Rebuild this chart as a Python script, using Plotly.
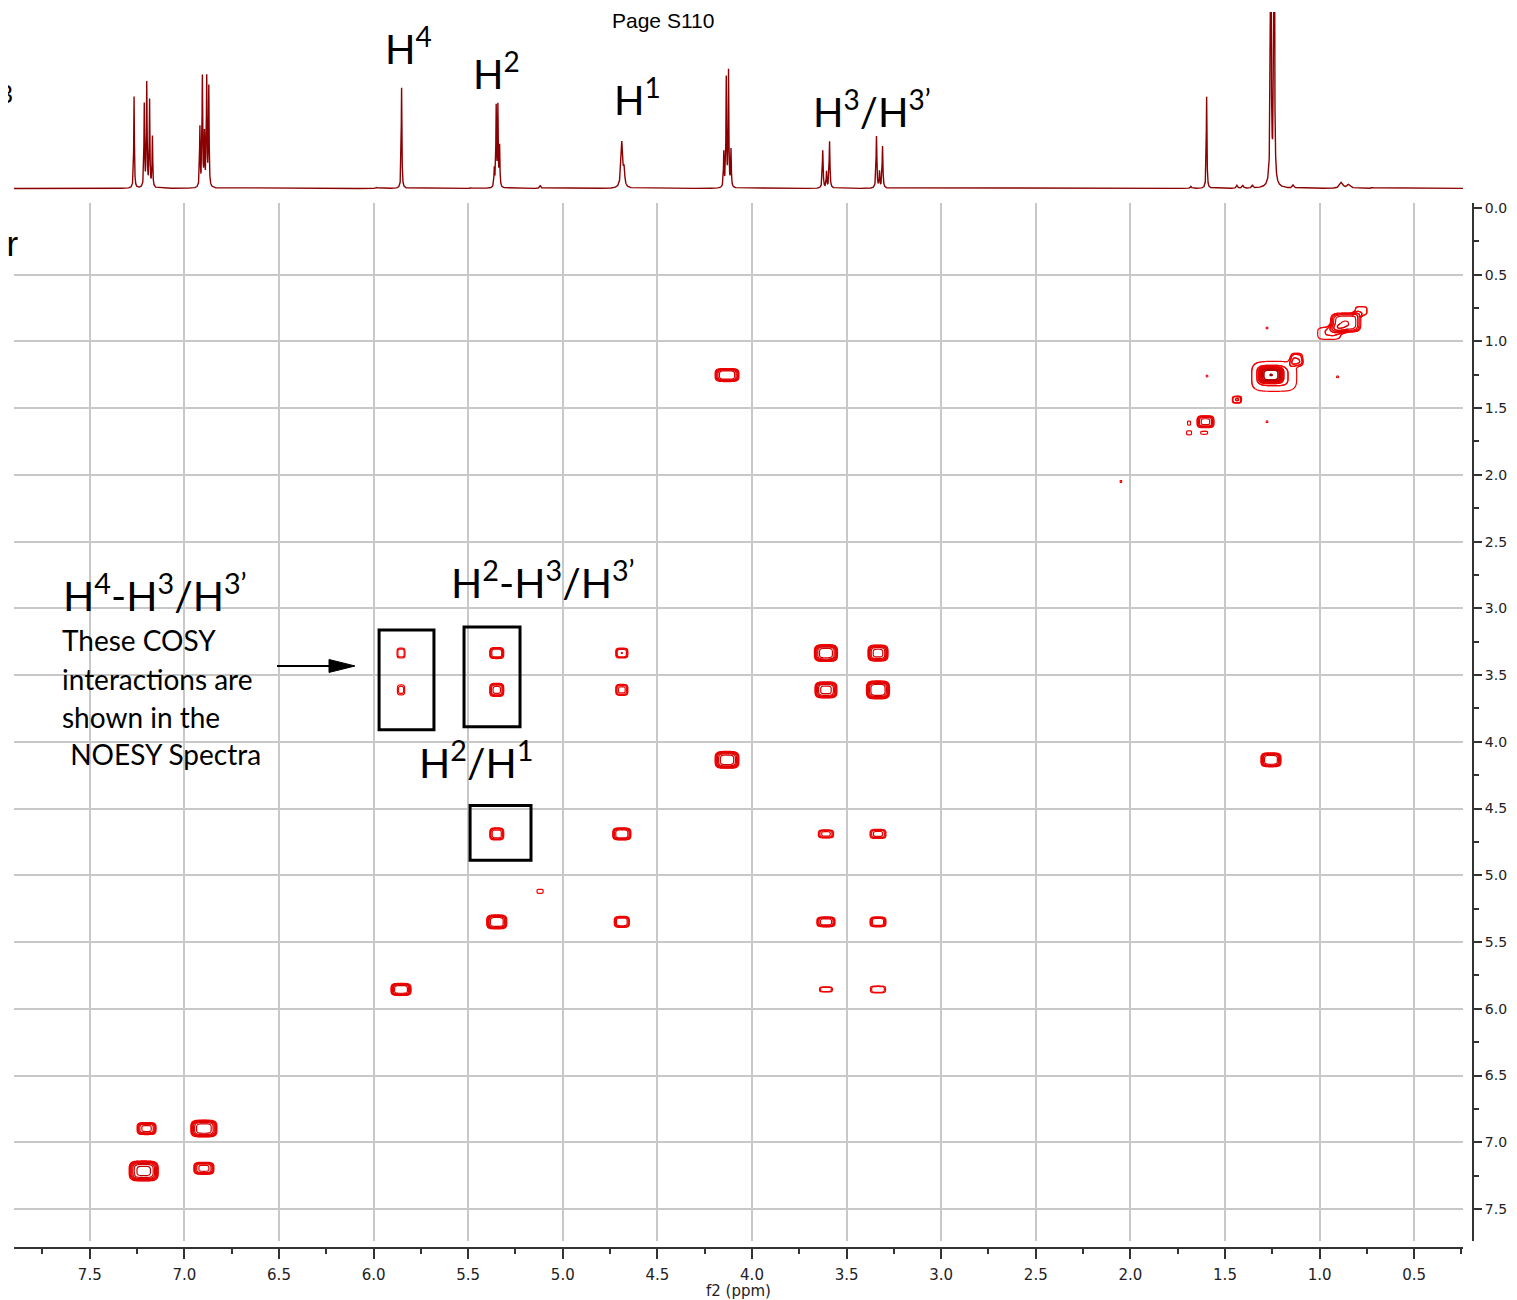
import numpy as np
import plotly.graph_objects as go

# page has an 8px body margin; figure occupies the rest of the 1517x1300 window
OFF = 8
FIG_W, FIG_H = 1517 - OFF, 1300 - OFF

# ---------------- data ----------------
# f2 projection (1H spectrum): line positions (ppm), relative heights, line widths (ppm)
proj_ppm = [7.266, 7.212, 7.199, 7.184, 7.169,
            6.918, 6.905, 6.894, 6.882, 6.871,
            5.985, 5.852, 5.483,
            5.362, 5.352, 5.343, 5.334, 5.119,
            4.688, 4.676,
            4.149, 4.136, 4.124, 4.111,
            3.626, 3.606, 3.590,
            3.342, 3.326, 3.310,
            1.680, 1.597, 1.437, 1.406, 1.355,
            1.258, 1.240, 1.250, 1.140,
            0.885, 0.845, 0.720]
proj_height = [92, 83, 104, 87, 51,
               60, 110, 52, 109, 100,
               1, 101, 1,
               18, 80, 80, 40, 3,
               46, 16,
               35, 109, 116, 37,
               38, 16, 47,
               52, 16, 42,
               2, 92, 3, 3, 3,
               420, 420, 10, 3,
               6, 4, 1]
proj_fwhm = [0.004, 0.004, 0.004, 0.004, 0.004,
             0.004, 0.004, 0.004, 0.004, 0.004,
             0.008, 0.004, 0.008,
             0.004, 0.004, 0.004, 0.004, 0.008,
             0.011, 0.008,
             0.004, 0.004, 0.004, 0.004,
             0.005, 0.004, 0.005,
             0.005, 0.004, 0.005,
             0.008, 0.004, 0.008, 0.008, 0.008,
             0.004, 0.004, 0.030, 0.010,
             0.020, 0.020, 0.010]

# COSY diagonal / cross peaks: f2 (ppm), f1 (ppm), log-intensity above lowest contour,
# outer half-widths along f2 and f1 (ppm)
cosy_f2 = [7.215, 6.897, 7.200, 6.897,
           5.855, 5.855, 5.855,
           5.349, 5.349, 5.349, 5.349, 5.120,
           4.688, 4.688, 4.688, 4.688,
           4.132, 4.132,
           3.609, 3.609, 3.609, 3.609, 3.609,
           3.334, 3.334, 3.334, 3.334, 3.334,
           1.257, 1.257, 1.240, 1.120, 1.437,
           1.603, 1.690, 1.690, 1.610,
           0.862, 0.950, 0.780,
           1.278, 1.595, 0.905, 1.278, 2.050]
cosy_f1 = [7.215, 7.195, 6.897, 6.897,
           5.855, 3.335, 3.611,
           3.335, 3.611, 4.690, 5.349, 5.120,
           3.335, 3.611, 4.690, 5.349,
           1.252, 4.135,
           3.335, 3.611, 4.690, 5.349, 5.855,
           3.335, 3.611, 4.690, 5.349, 5.855,
           4.135, 1.252, 1.262, 1.130, 1.437,
           1.602, 1.612, 1.685, 1.685,
           0.859, 0.940, 0.770,
           0.900, 1.260, 1.266, 1.602, 2.050]
cosy_level = [2.2, 1.6, 1.6, 2.0,
              1.8, 0.5, 0.4,
              1.2, 1.3, 1.1, 1.8, 0.3,
              0.9, 1.0, 1.5, 1.2,
              1.8, 2.0,
              2.0, 1.9, 1.0, 1.4, 0.6,
              1.9, 2.1, 1.0, 1.2, 0.6,
              1.8, 2.6, 0.35, 0.3, 0.6,
              1.6, 0.2, 0.3, 0.3,
              1.5, 0.3, 0.2,
              0.15, 0.15, 0.15, 0.15, 0.15]
cosy_hw2 = [0.077, 0.053, 0.050, 0.069,
            0.053, 0.021, 0.019,
            0.037, 0.037, 0.037, 0.053, 0.016,
            0.032, 0.032, 0.048, 0.040,
            0.063, 0.063,
            0.061, 0.058, 0.040, 0.048, 0.034,
            0.053, 0.061, 0.042, 0.042, 0.040,
            0.053, 0.063, 0.119, 0.026, 0.024,
            0.045, 0.008, 0.013, 0.018,
            0.080, 0.060, 0.030,
            0.005, 0.005, 0.005, 0.005, 0.005]
cosy_hw1 = [0.075, 0.045, 0.045, 0.063,
            0.045, 0.037, 0.037,
            0.041, 0.049, 0.045, 0.052, 0.015,
            0.037, 0.041, 0.045, 0.041,
            0.049, 0.063,
            0.063, 0.060, 0.030, 0.037, 0.019,
            0.060, 0.067, 0.034, 0.037, 0.026,
            0.052, 0.060, 0.112, 0.037, 0.026,
            0.045, 0.015, 0.015, 0.011,
            0.072, 0.045, 0.030,
            0.007, 0.007, 0.007, 0.007, 0.007]

# axis ranges / ticks
f2_range = [7.9006, 0.242]
f1_range = [7.741, -0.0336]
f1_grid = [0.5 * i for i in range(1, 16)]

# highlight boxes (ppm): f2 from/to, f1 from/to
box_f2_from = [5.971, 5.522, 5.490]
box_f2_to = [5.681, 5.226, 5.168]
box_f1_from = [3.163, 3.140, 4.477]
box_f1_to = [3.910, 3.887, 4.888]

# ---------------- build ----------------
def px(x):
    return (x - OFF) / FIG_W


def py(y):
    return 1 - (y - OFF) / FIG_H


fig = go.Figure()

# 1D projection
f2_axis = np.arange(0.20, 7.95, 0.0005)
spec = np.zeros_like(f2_axis)
for p, h, w in zip(proj_ppm, proj_height, proj_fwhm):
    g = w / 2
    spec += h * g * g / ((f2_axis - p) ** 2 + g * g)
fig.add_trace(go.Scatter(x=np.round(f2_axis, 4), y=np.round(spec, 2), mode='lines',
                         line=dict(color='#8b0000', width=1.4),
                         xaxis='x2', yaxis='y2', hoverinfo='skip'))

# 2D contours
P = 4.0
lv = np.array(cosy_level)
amp = np.exp(lv)
c2 = np.array(cosy_f2)
c1 = np.array(cosy_f1)
hw2 = np.array(cosy_hw2)
hw1 = np.array(cosy_hw1)
s2 = hw2 / lv ** (1 / P)
s1 = hw1 / lv ** (1 / P)


def log_intensity(X, Y):
    tot = np.zeros_like(X)
    for a, x0, y0, sx, sy in zip(amp, c2, c1, s2, s1):
        tot += a * np.exp(-(np.abs((X - x0) / sx) ** P + np.abs((Y - y0) / sy) ** P))
    return np.log(tot + 1e-9)


cscale = [[0, '#f50000'], [0.55, '#d80000'], [1, '#900000']]
for i in range(len(c2)):
    xs = np.linspace(c2[i] - 1.7 * hw2[i], c2[i] + 1.7 * hw2[i], 45)
    ys = np.linspace(c1[i] - 1.7 * hw1[i], c1[i] + 1.7 * hw1[i], 45)
    X, Y = np.meshgrid(xs, ys)
    Z = log_intensity(X, Y)
    fig.add_trace(go.Contour(
        x=np.round(xs, 5), y=np.round(ys, 5), z=np.round(Z, 3),
        xaxis='x3', yaxis='y3',
        contours=dict(start=0.0, end=4.0, size=0.3, coloring='lines'),
        colorscale=cscale, zmin=0, zmax=3, showscale=False,
        line=dict(width=1.2, smoothing=1), hoverinfo='skip'))

grid_col = '#c8c8c8'
ax_col = '#333333'

fig.update_layout(
    width=FIG_W, height=FIG_H,
    margin=dict(l=0, r=0, t=0, b=0, pad=0),
    paper_bgcolor='white', plot_bgcolor='white', showlegend=False,
    xaxis=dict(domain=[px(14), px(1463)], range=f2_range, anchor='y',
               showgrid=True, gridcolor=grid_col, gridwidth=1.5, dtick=0.5, tick0=0,
               ticks='', showticklabels=False, showline=False, zeroline=False),
    yaxis=dict(domain=[py(1241), py(200)], range=f1_range, anchor='x',
               tickmode='array', tickvals=f1_grid,
               showgrid=True, gridcolor=grid_col, gridwidth=1.5,
               ticks='', showticklabels=False, showline=False, zeroline=False),
    xaxis3=dict(overlaying='x', anchor='free', position=py(1248), side='bottom',
                range=f2_range, dtick=0.5, tick0=0, tickformat='.1f',
                ticks='outside', ticklen=10, tickwidth=1.5, tickcolor=ax_col,
                ticklabelstandoff=3,
                showline=True, linecolor=ax_col, linewidth=2,
                showgrid=False, zeroline=False,
                tickfont=dict(family='DejaVu Sans', size=15, color='#222222'),
                minor=dict(dtick=0.25, tick0=0, ticks='outside', ticklen=5,
                           tickwidth=1.5, tickcolor=ax_col, showgrid=False),
                title=dict(text='f2 (ppm)', standoff=0,
                           font=dict(family='DejaVu Sans', size=15, color='#222222'))),
    yaxis3=dict(overlaying='y', anchor='free', position=px(1473), side='right',
                range=f1_range, dtick=0.5, tick0=0, tickformat='.1f',
                ticks='outside', ticklen=8, tickwidth=1.5, tickcolor=ax_col,
                showline=True, linecolor=ax_col, linewidth=2,
                showgrid=False, zeroline=False,
                tickfont=dict(family='DejaVu Sans', size=14, color='#222222'),
                minor=dict(dtick=0.25, tick0=0, ticks='outside', ticklen=5,
                           tickwidth=1.5, tickcolor=ax_col, showgrid=False)),
    xaxis2=dict(domain=[px(14), px(1463)], range=f2_range, anchor='y2', visible=False),
    yaxis2=dict(domain=[py(195), py(8)], range=[-10, 177], anchor='x2', visible=False),
)

# boxes
for a, b, c, d in zip(box_f2_from, box_f2_to, box_f1_from, box_f1_to):
    fig.add_shape(type='rect', xref='x', yref='y', x0=a, x1=b, y0=c, y1=d,
                  line=dict(color='black', width=3))

# arrow
fig.add_shape(type='line', xref='paper', yref='paper', x0=px(277), x1=px(335),
              y0=py(664), y1=py(664), line=dict(color='black', width=2))
fig.add_shape(type='path', xref='paper', yref='paper',
              path=f'M {px(329)},{py(657.5)} L {px(355)},{py(664)} L {px(329)},{py(670.5)} Z',
              fillcolor='black', line=dict(color='black', width=1))

LATO = 'Lato'


def label(text, x, yc, size, family=LATO, xanchor='left'):
    fig.add_annotation(text=text, x=px(x), y=py(yc), xref='paper', yref='paper',
                       xanchor=xanchor, yanchor='middle', showarrow=False,
                       font=dict(family=family, size=size, color='black'))


# top labels
label('H<sup>4</sup>', 383, 42.5, 40)
label('H<sup>2</sup>', 471, 67.5, 40)
label('H<sup>1</sup>', 612, 93, 40)
label('H<sup>3</sup>/H<sup>3’</sup>', 811, 105, 40)
label('Page S110', 610, 17, 21, family='Liberation Sans')
label('3', 15, 90, 25, family='Liberation Sans', xanchor='right')
label('er', 20, 240, 35, family='Liberation Sans', xanchor='right')

# in-plot labels
label('H<sup>4</sup>-H<sup>3</sup>/H<sup>3’</sup>', 61, 590.5, 41)
label('H<sup>2</sup>-H<sup>3</sup>/H<sup>3’</sup>', 449, 577.5, 41)
label('H<sup>2</sup>/H<sup>1</sup>', 417, 758.5, 41)
label('These COSY', 60, 638, 28)
label('interactions are', 60, 677.5, 28)
label('shown in the', 60, 715.5, 28)
label(' NOESY Spectra', 61, 752.5, 28)

fig.write_html("out.html")
